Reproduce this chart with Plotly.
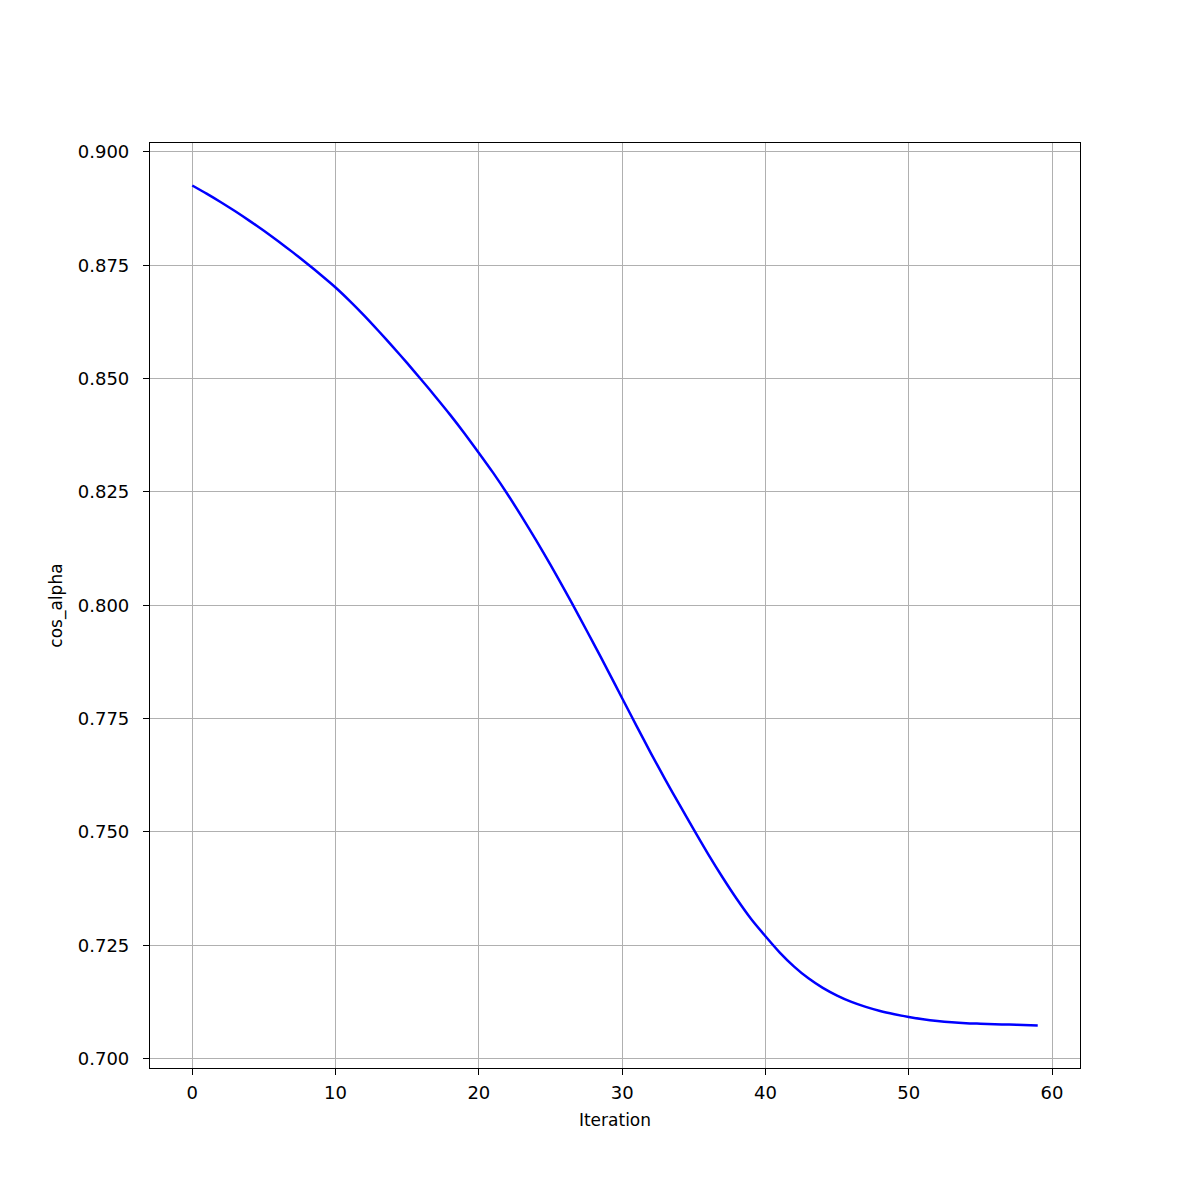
import plotly.graph_objects as go

iterations = list(range(60))
cos_alpha = [
    0.8926, 0.8908, 0.8889, 0.8869, 0.8848, 0.8826, 0.8803, 0.8779, 0.8754, 0.8728,
    0.8701, 0.8671, 0.8639, 0.8605, 0.8570, 0.8534, 0.8497, 0.8459, 0.8420, 0.8379,
    0.8336, 0.8292, 0.8245, 0.8195, 0.8143, 0.8089, 0.8033, 0.7975, 0.7916, 0.7856,
    0.7795, 0.7734, 0.7674, 0.7616, 0.7560, 0.7505, 0.7451, 0.7400, 0.7352, 0.7308,
    0.7270, 0.7234, 0.7203, 0.7177, 0.7156, 0.7139, 0.7125, 0.7114, 0.7105, 0.7098,
    0.7092, 0.7087, 0.7083, 0.7080, 0.7078, 0.7077, 0.7076, 0.7075, 0.7074, 0.7073,
]
x_ticks = [0, 10, 20, 30, 40, 50, 60]
y_ticks = [0.700, 0.725, 0.750, 0.775, 0.800, 0.825, 0.850, 0.875, 0.900]

FONT = "DejaVu Sans, sans-serif"

fig = go.Figure(
    go.Scatter(
        x=iterations, y=cos_alpha, mode="lines",
        line=dict(color="#0000ff", width=2.5, shape="spline", smoothing=0.6),
    )
)

axis_common = dict(
    showline=True, linecolor="black", linewidth=1.2, mirror=True,
    ticks="outside", ticklen=6, tickwidth=1.2, tickcolor="black",
    showgrid=True, gridcolor="#b0b0b0", gridwidth=1.2,
    zeroline=False,
    tickfont=dict(family=FONT, size=18, color="black"),
)

fig.update_layout(
    width=1200, height=1200,
    paper_bgcolor="white", plot_bgcolor="white",
    margin=dict(l=150, r=120, t=143, b=132),
    showlegend=False,
    font=dict(family=FONT, size=17, color="black"),
    xaxis=dict(
        range=[-2.95, 61.95], tickvals=x_ticks, ticklabelstandoff=2,
        title=dict(text="Iteration", font=dict(family=FONT, size=17), standoff=12),
        **axis_common,
    ),
    yaxis=dict(
        range=[0.69793, 0.90197], tickvals=y_ticks, tickformat=".3f",
        ticklabelstandoff=10,
        title=dict(text="cos_alpha", font=dict(family=FONT, size=17), standoff=10),
        **axis_common,
    ),
)

fig.write_html("out.html")
